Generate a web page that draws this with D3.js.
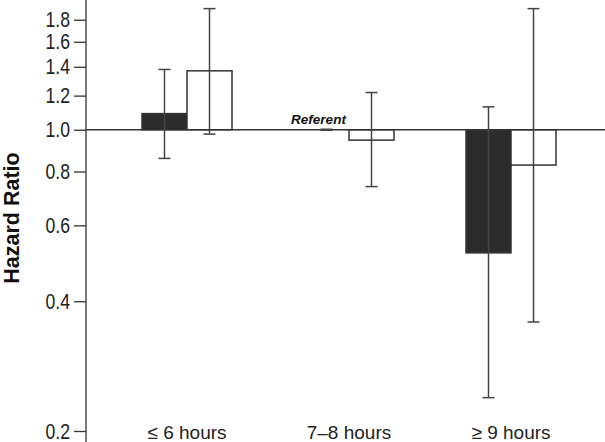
<!DOCTYPE html>
<html>
<head>
<meta charset="utf-8">
<script src="https://cdn.jsdelivr.net/npm/d3@7"></script>
<style>
  html, body { margin: 0; padding: 0; background: #fff; }
  svg { display: block; }
</style>
</head>
<body>
<div id="chart"></div>
<script>
// sleep duration groups
const categories = ["≤ 6 hours", "7–8 hours", "≥ 9 hours"];

// solid bars
const solidHR = [1.09, 1.0, 0.518];
const solidLower = [0.858, 1.0, 0.239];
const solidUpper = [1.38, 1.0, 1.13];

// open bars
const openHR = [1.37, 0.946, 0.828];
const openLower = [0.977, 0.738, 0.358];
const openUpper = [1.91, 1.22, 1.91];

const yTicks = [0.2, 0.4, 0.6, 0.8, 1.0, 1.2, 1.4, 1.6, 1.8];
const referentLabel = "Referent";

const width = 605, height = 442;
const axisX = 86;
const barW = 45;
const ink = "#333";

const svg = d3.select("#chart").append("svg")
  .attr("width", width).attr("height", height);

const y = d3.scaleLog().domain([0.2, 2.0]).range([431, 0]);
const x = d3.scalePoint().domain(categories).range([187, 511]);

// y axis
const yAxis = svg.append("g")
  .attr("transform", `translate(${axisX},0)`)
  .call(d3.axisLeft(y).tickValues(yTicks).tickFormat(d3.format(".1f")).tickSize(12).tickPadding(4));
yAxis.select(".domain").remove();
yAxis.selectAll(".tick line").attr("stroke", ink).attr("stroke-width", 1.3);
// condensed look: squeeze the labels horizontally
yAxis.selectAll(".tick text")
  .attr("x", 0)
  .attr("transform", "translate(-16,0) scale(0.8,1)")
  .attr("fill", "#222")
  .style("font-family", "'Liberation Sans', Arial, sans-serif")
  .style("font-size", "22px");

svg.append("line")
  .attr("x1", axisX).attr("x2", axisX)
  .attr("y1", 0).attr("y2", height)
  .attr("stroke", ink).attr("stroke-width", 1.3);

svg.append("text")
  .attr("transform", `translate(19,218) rotate(-90)`)
  .attr("text-anchor", "middle")
  .style("font-family", "'Liberation Sans', Arial, sans-serif")
  .style("font-weight", "bold")
  .style("font-size", "21.5px")
  .attr("fill", "#111")
  .text("Hazard Ratio");

// x labels
svg.selectAll(".xlab")
  .data(categories).enter().append("text")
  .attr("class", "xlab")
  .attr("x", d => x(d))
  .attr("y", 439)
  .attr("text-anchor", "middle")
  .style("font-family", "'Liberation Sans', Arial, sans-serif")
  .style("font-size", "19px")
  .attr("fill", "#222")
  .text(d => d);

// bars (from 1.0 baseline)
const solid = categories.map((c, i) => ({ c, hr: solidHR[i], lo: solidLower[i], hi: solidUpper[i], off: -barW / 2 }));
const open = categories.map((c, i) => ({ c, hr: openHR[i], lo: openLower[i], hi: openUpper[i], off: barW / 2 }));

svg.selectAll(".solid")
  .data(solid).enter().append("rect")
  .attr("class", "solid")
  .attr("x", d => x(d.c) - barW)
  .attr("width", barW)
  .attr("y", d => Math.min(y(d.hr), y(1)))
  .attr("height", d => Math.abs(y(d.hr) - y(1)))
  .attr("fill", "#2b2b2b")
  .attr("stroke", ink)
  .attr("stroke-width", d => d.hr === 1 ? 0 : 1.5);

svg.selectAll(".open")
  .data(open).enter().append("rect")
  .attr("class", "open")
  .attr("x", d => x(d.c))
  .attr("width", barW)
  .attr("y", d => Math.min(y(d.hr), y(1)))
  .attr("height", d => Math.abs(y(d.hr) - y(1)))
  .attr("fill", "#fff")
  .attr("stroke", ink)
  .attr("stroke-width", 1.5);

// reference line at 1.0
svg.append("line")
  .attr("x1", axisX).attr("x2", width)
  .attr("y1", y(1)).attr("y2", y(1))
  .attr("stroke", ink).attr("stroke-width", 1.3);

// error bars
const capW = 12;
const errs = solid.concat(open);
const eg = svg.selectAll(".err").data(errs).enter().append("g").attr("class", "err")
  .attr("stroke", "#444").attr("stroke-width", 1.5);
eg.append("line")
  .attr("x1", d => x(d.c) + d.off).attr("x2", d => x(d.c) + d.off)
  .attr("y1", d => y(d.hi)).attr("y2", d => y(d.lo));
eg.append("line")
  .attr("x1", d => x(d.c) + d.off - capW / 2).attr("x2", d => x(d.c) + d.off + capW / 2)
  .attr("y1", d => y(d.hi)).attr("y2", d => y(d.hi));
eg.append("line")
  .attr("x1", d => x(d.c) + d.off - capW / 2).attr("x2", d => x(d.c) + d.off + capW / 2)
  .attr("y1", d => y(d.lo)).attr("y2", d => y(d.lo))
  .attr("stroke-width", d => d.lo === 1 ? 2.5 : 1.5);

// referent label
svg.append("text")
  .attr("x", x(categories[1]) - barW / 2 - 8)
  .attr("y", y(1) - 6)
  .attr("text-anchor", "middle")
  .style("font-family", "'Liberation Sans', Arial, sans-serif")
  .style("font-weight", "bold")
  .style("font-style", "italic")
  .style("font-size", "13.5px")
  .attr("fill", "#111")
  .text(referentLabel);
</script>
</body>
</html>
